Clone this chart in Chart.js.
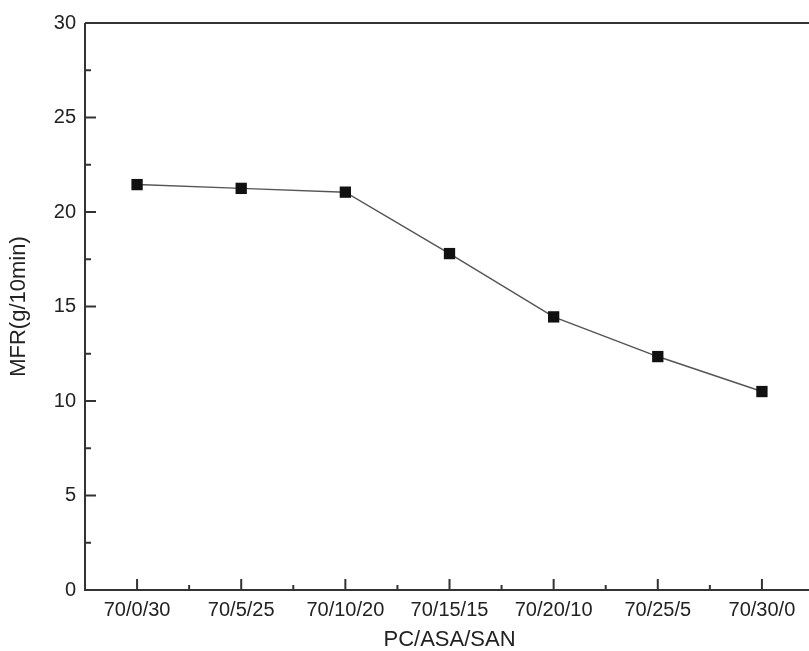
<!DOCTYPE html>
<html>
<head>
<meta charset="utf-8">
<script src="https://cdn.jsdelivr.net/npm/chart.js@4"></script>
<style>
  html, body { margin: 0; padding: 0; background: #fff; overflow: hidden; }
  #wrap { width: 809px; height: 651px; overflow: hidden; }
</style>
</head>
<body>
<div id="wrap"><canvas id="mfrChart" width="822" height="651"></canvas></div>
<script>
// données
const blends = ["70/0/30", "70/5/25", "70/10/20", "70/15/15", "70/20/10", "70/25/5", "70/30/0"];
const mfrValues = [21.45, 21.25, 21.05, 17.8, 14.45, 12.35, 10.5];
const yTicks = [0, 5, 10, 15, 20, 25, 30];
const yMinorTicks = [2.5, 7.5, 12.5, 17.5, 22.5, 27.5];

const axisColor = '#333';

// cadre + graduations vers l'intérieur
const innerTicks = {
  id: 'innerTicks',
  afterDraw(chart) {
    const ctx = chart.ctx;
    const area = chart.chartArea;
    const xs = chart.scales.x;
    const ys = chart.scales.y;
    ctx.save();
    ctx.strokeStyle = axisColor;
    ctx.lineWidth = 2;
    ctx.beginPath();
    ctx.moveTo(area.left, area.top);
    ctx.lineTo(area.right, area.top);
    ctx.moveTo(area.left, area.top);
    ctx.lineTo(area.left, area.bottom);
    ctx.lineTo(area.right, area.bottom);
    // y
    yTicks.forEach(v => {
      const y = ys.getPixelForValue(v);
      ctx.moveTo(area.left, y);
      ctx.lineTo(area.left + 11, y);
    });
    yMinorTicks.forEach(v => {
      const y = ys.getPixelForValue(v);
      ctx.moveTo(area.left, y);
      ctx.lineTo(area.left + 6, y);
    });
    // x
    blends.forEach((b, i) => {
      const x = xs.getPixelForValue(i);
      ctx.moveTo(x, area.bottom);
      ctx.lineTo(x, area.bottom - 11);
      if (i < blends.length - 1) {
        const xm = xs.getPixelForValue(i + 0.5);
        ctx.moveTo(xm, area.bottom);
        ctx.lineTo(xm, area.bottom - 5);
      }
    });
    ctx.stroke();
    ctx.restore();
  }
};

const ctx = document.getElementById('mfrChart');
new Chart(ctx, {
  type: 'line',
  data: {
    labels: blends,
    datasets: [{
      data: mfrValues,
      borderColor: '#555',
      borderWidth: 1.5,
      pointStyle: 'rect',
      pointRadius: 8,
      pointHoverRadius: 8,
      pointBackgroundColor: '#111',
      pointBorderColor: '#111',
      pointBorderWidth: 0,
      tension: 0
    }]
  },
  options: {
    responsive: false,
    animation: false,
    layout: { padding: { top: 23, left: 0, right: 0, bottom: 0 } },
    plugins: { legend: { display: false }, tooltip: { enabled: false } },
    scales: {
      x: {
        type: 'category',
        offset: true,
        grid: { display: false, drawTicks: false, tickLength: 0 },
        border: { display: false },
        ticks: { color: '#222', font: { family: 'Liberation Sans, Arial', size: 20 }, padding: 8, maxRotation: 0, autoSkip: false },
        title: { display: true, text: 'PC/ASA/SAN', color: '#222', font: { family: 'Liberation Sans, Arial', size: 22 }, padding: { top: 0, bottom: -2.5 } },
        afterFit(scale) { scale.height = 61; }
      },
      y: {
        min: 0,
        max: 30,
        grid: { display: false, drawTicks: false, tickLength: 0 },
        border: { display: false },
        ticks: { stepSize: 5, color: '#222', font: { family: 'Liberation Sans, Arial', size: 20 }, padding: 9 },
        title: { display: true, text: 'MFR(g/10min)', color: '#222', font: { family: 'Liberation Sans, Arial', size: 22 }, padding: { top: 6, bottom: 0 } },
        afterFit(scale) { scale.width = 85; }
      }
    }
  },
  plugins: [innerTicks]
});
</script>
</body>
</html>
